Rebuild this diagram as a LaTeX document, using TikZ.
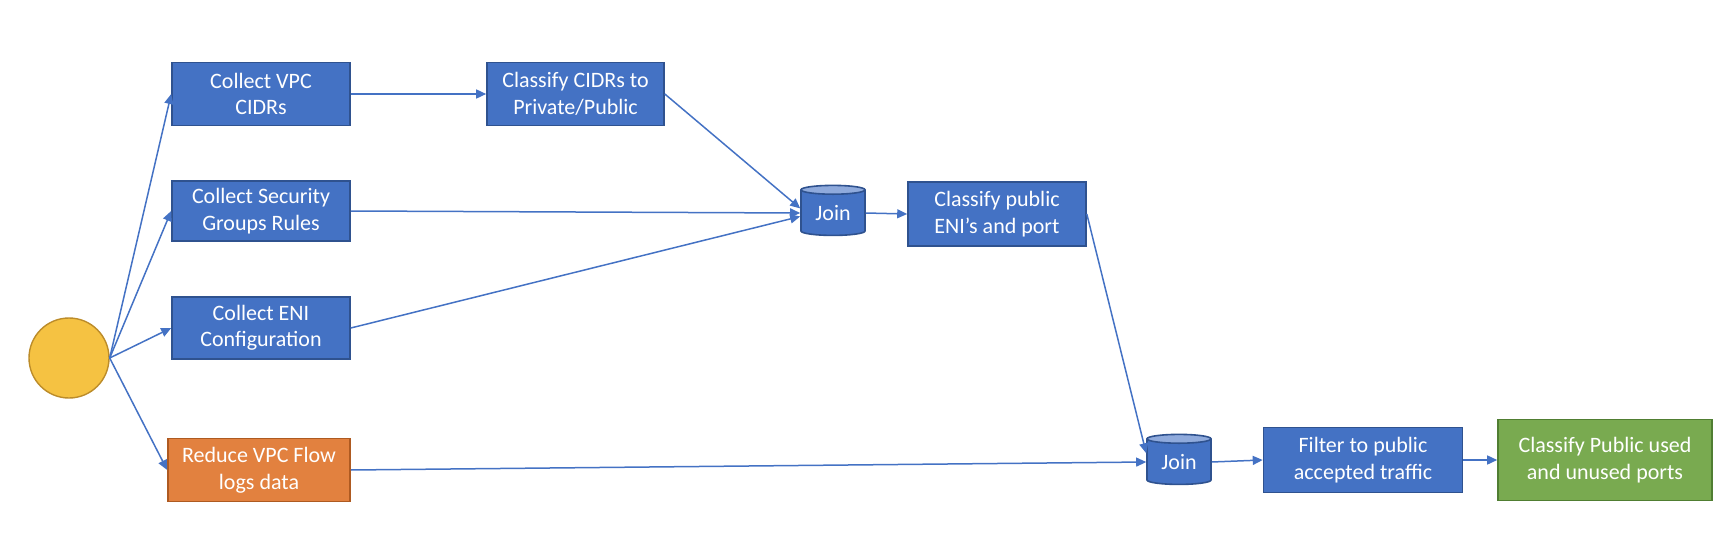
\documentclass[tikz,border=0pt]{standalone}
\usepackage{fontspec}
\setmainfont{Carlito}
\usetikzlibrary{shapes.geometric,arrows.meta}
\definecolor{bfill}{HTML}{4472C4}
\definecolor{bdraw}{HTML}{2F528F}
\definecolor{btop}{HTML}{8FAADC}
\definecolor{ofill}{HTML}{E2813F}
\definecolor{odraw}{HTML}{AE5A21}
\definecolor{gfill}{HTML}{79AA50}
\definecolor{gdraw}{HTML}{507E32}
\definecolor{cfill}{HTML}{F5C242}
\definecolor{cdraw}{HTML}{BC8C2A}
\definecolor{arr}{HTML}{4472C4}
\begin{document}
\begin{tikzpicture}[x=1pt,y=-1pt,
  box/.style={rectangle,draw=bdraw,fill=bfill,line width=1.6pt,text=white,align=center,
    font=\fontsize{22}{26.5}\selectfont,inner sep=0pt},
  obox/.style={box,draw=odraw,fill=ofill},
  gbox/.style={box,draw=gdraw,fill=gfill},
  joinbox/.style={cylinder,shape border rotate=90,aspect=0.25,draw=bdraw,line width=1.6pt,
    cylinder uses custom fill,cylinder body fill=bfill,cylinder end fill=btop,
    text=white,font=\fontsize{22}{26.5}\selectfont,inner sep=0pt,
    minimum width=64pt,minimum height=50pt},
  startnode/.style={circle,draw=cdraw,fill=cfill,line width=1.4pt,minimum size=80pt,inner sep=0pt},
  conn/.style={draw=arr,line width=1.5pt,-{Triangle[length=10pt,width=9pt]}}
]
\useasboundingbox (0,0) rectangle (1726,548);
\node[startnode] (start) at (69,358) {};
\node[box,minimum width=178pt,minimum height=63pt] (vpc) at (261,94) {Collect VPC\\CIDRs};
\node[box,minimum width=177pt,minimum height=63pt] (cidr) at (575.5,94) {Classify CIDRs to\\Private/Public};
\node[box,minimum width=178pt,minimum height=60pt] (sec) at (261,211) {Collect Security\\Groups Rules};
\node[box,minimum width=178pt,minimum height=62pt] (eni) at (261,328) {Collect ENI\\Configuration};
\node[obox,minimum width=182pt,minimum height=63pt] (red) at (259,470) {Reduce VPC Flow\\logs data};
\node[joinbox] (join1) at (833,213) {Join};
\node[box,minimum width=178pt,minimum height=64pt] (clse) at (997,214) {Classify public\\ENI’s and port};
\node[joinbox] (join2) at (1179,462) {Join};
\node[box,minimum width=199pt,minimum height=65pt] (filt) at (1363,460) {Filter to public\\accepted traffic};
\node[gbox,minimum width=214pt,minimum height=81pt] (cls) at (1605,460) {Classify Public used\\and unused ports};
\draw[conn] (start.east) -- (vpc.west);
\draw[conn] (start.east) -- (sec.west);
\draw[conn] (start.east) -- (eni.west);
\draw[conn] (start.east) -- (red.west);
\draw[conn] (vpc.east) -- (cidr.west);
\draw[conn] (cidr.east) -- (join1.172);
\draw[conn] (sec.east) -- (join1.west);
\draw[conn] (eni.east) -- (join1.186);
\draw[conn] (join1.east) -- (clse.west);
\draw[conn] (clse.east) -- (join2.165);
\draw[conn] (red.east) -- (join2.west);
\draw[conn] (join2.east) -- (filt.west);
\draw[conn] (filt.east) -- (cls.west);
\end{tikzpicture}
\end{document}
